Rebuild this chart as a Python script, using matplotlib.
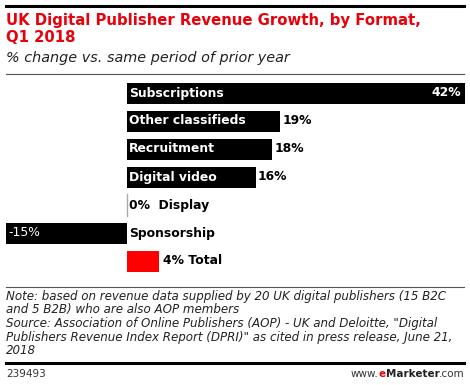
import matplotlib
matplotlib.use("Agg")
import matplotlib.pyplot as plt
from matplotlib.lines import Line2D
from matplotlib.offsetbox import TextArea, HPacker, AnchoredOffsetbox

categories = ["Subscriptions", "Other classifieds", "Recruitment", "Digital video",
              "Display", "Sponsorship", "Total"]
values = [42, 19, 18, 16, 0, -15, 4]

W, H = 470, 385
fig = plt.figure(figsize=(W / 100, H / 100), dpi=100)


def fx(x):
    return x / W


def fy(y):
    return 1 - y / H


def hline(y, x0, x1, lw, color):
    fig.add_artist(Line2D([fx(x0), fx(x1)], [fy(y), fy(y)], lw=lw, color=color,
                          transform=fig.transFigure))


# header
hline(6, 6, 464, 2.2, "black")
fig.text(fx(6), fy(21), "UK Digital Publisher Revenue Growth, by Format,", color="#e8000b",
         fontsize=10.7, fontweight="heavy", va="center", ha="left")
fig.text(fx(6), fy(38), "Q1 2018", color="#e8000b",
         fontsize=10.7, fontweight="heavy", va="center", ha="left")
fig.text(fx(6), fy(58), "% change vs. same period of prior year", color="#222222",
         fontsize=10.4, style="italic", va="center", ha="left")
hline(74, 6, 464, 0.8, "#555555")

# bars
ax = fig.add_axes([fx(6), fy(275), fx(465) - fx(6), (275 - 79) / H])
colors = ["red" if c == "Total" else "black" for c in categories]
ypos = list(range(len(categories)))
ax.barh(ypos, values, height=0.75, color=colors)
ax.set_xlim(-15, 42)
ax.set_ylim(len(categories) - 0.5, -0.5)
ax.axis("off")
ax.plot([0, 0], [3.6, 4.4], color="#aaaaaa", lw=1)

fs = 8.9
for i, (c, v) in enumerate(zip(categories, values)):
    if c == "Subscriptions":
        ax.text(0.3, i, c, color="white", fontsize=fs, fontweight="bold", va="center")
        ax.text(v - 0.5, i, f"{v}%", color="white", fontsize=fs, fontweight="bold",
                va="center", ha="right")
    elif v > 4:
        ax.text(0.3, i, c, color="white", fontsize=fs, fontweight="bold", va="center")
        ax.text(v + 0.3, i, f"{v}%", color="black", fontsize=fs, fontweight="bold",
                va="center")
    elif v < 0:
        ax.text(v + 0.3, i, f"{v}%", color="white", fontsize=fs, va="center")
        ax.text(0.3, i, c, color="black", fontsize=fs, fontweight="bold", va="center")
    elif v == 0:
        ax.text(0.3, i, f"{v}%  {c}", color="black", fontsize=fs, fontweight="bold",
                va="center")
    else:
        ax.text(v + 0.5, i, f"{v}% {c}", color="black", fontsize=fs, fontweight="bold",
                va="center")

# footer
hline(287, 6, 464, 0.8, "#555555")
note = ("Note: based on revenue data supplied by 20 UK digital publishers (15 B2C\n"
        "and 5 B2B) who are also AOP members\n"
        "Source: Association of Online Publishers (AOP) - UK and Deloitte, \"Digital\n"
        "Publishers Revenue Index Report (DPRI)\" as cited in press release, June 21,\n"
        "2018")
fig.text(fx(6), fy(290), note, fontsize=8.6, style="italic", color="#222222",
         va="top", ha="left", linespacing=1.05)
hline(363, 6, 464, 2.2, "black")
fig.text(fx(6), fy(374), "239493", fontsize=7.5, color="#333333", va="center", ha="left")

parts = [("www.", "#333333", "normal"), ("e", "#e8000b", "bold"),
         ("Marketer", "#222222", "bold"), (".com", "#333333", "normal")]
boxes = [TextArea(t, textprops=dict(color=col, fontweight=wt, fontsize=7.5))
         for t, col, wt in parts]
pack = HPacker(children=boxes, pad=0, sep=0, align="baseline")
anch = AnchoredOffsetbox(loc="center right", child=pack, frameon=False, pad=0,
                         borderpad=0, bbox_to_anchor=(fx(465), fy(374)),
                         bbox_transform=fig.transFigure)
fig.add_artist(anch)

fig.savefig("out.png", dpi=100)
